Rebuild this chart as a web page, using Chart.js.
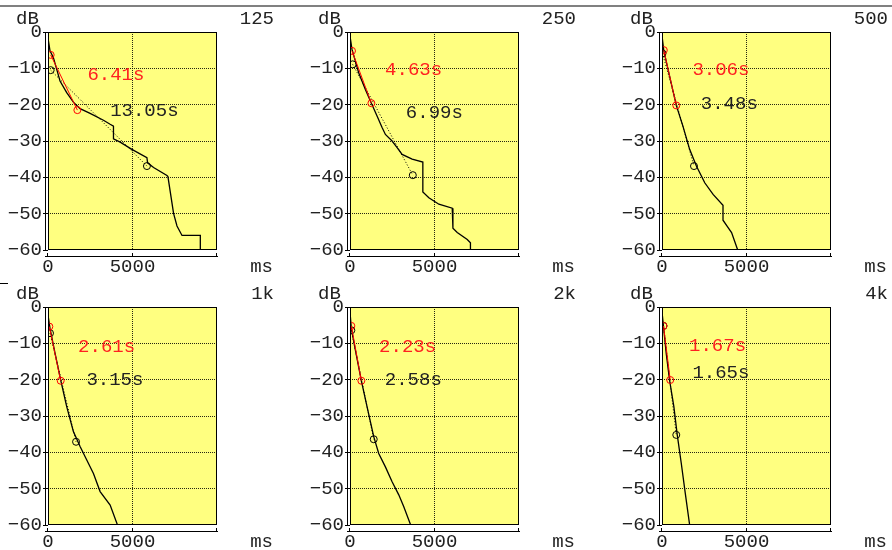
<!DOCTYPE html>
<html>
<head>
<meta charset="utf-8">
<script src="https://cdn.jsdelivr.net/npm/chart.js@4.4.1/dist/chart.umd.min.js"></script>
<style>
  body { margin: 0; background: #fff; width: 892px; height: 550px; position: relative; overflow: hidden; }
  canvas { position: absolute; }
  .rule { position: absolute; left: 0; top: 5px; width: 892px; height: 2px; background: #808080; }
  .dash { position: absolute; left: 0; top: 283px; width: 8px; height: 1px; background: #000; }
</style>
</head>
<body>
<div class="rule"></div>
<div class="dash"></div>
<script>
// octave bands and the two decay-time readouts
const bands = ['125', '250', '500', '1k', '2k', '4k'];
const edtLabels = ['6.41s', '4.63s', '3.06s', '2.61s', '2.23s', '1.67s'];
const rtLabels = ['13.05s', '6.99s', '3.48s', '3.15s', '2.58s', '1.65s'];
const yTicks = [0, -10, -20, -30, -40, -50, -60];
const xTicks = [0, 5000, 10000];

// decay curves, time in ms and level in dB
const curve125Ms = [0, 119, 316, 711, 1107, 1502, 1898, 2491, 3281, 3677, 3874, 3874, 4270, 4963, 5853, 5893, 6247, 7038, 7096, 7430, 7632, 7929, 9013, 9013];
const curve125Db = [-1.7, -5.2, -7.0, -13.5, -16.7, -19.3, -21.1, -22.4, -24.3, -25.4, -25.9, -29.4, -30.3, -32.3, -34.6, -36.0, -37.3, -39.5, -39.8, -49.9, -53.4, -56.0, -56.0, -60];
const curve250Ms = [0, 119, 514, 909, 1265, 1601, 1898, 2095, 2491, 2787, 3084, 3677, 4310, 4310, 4666, 5259, 6049, 6090, 6345, 6938, 7127, 7127];
const curve250Db = [-1.1, -4.8, -11.2, -15.8, -19.6, -23.1, -26.3, -28.2, -30.0, -31.8, -33.7, -35.0, -35.8, -44.0, -45.6, -47.4, -48.5, -54.0, -55.2, -57.1, -58.0, -60];
const curve500Ms = [0, 107, 446, 845, 1238, 1636, 2035, 2529, 3023, 3610, 3610, 3820, 4117, 4480];
const curve500Db = [-1.0, -5.2, -12.1, -20.2, -25.9, -32.3, -36.9, -41.5, -44.7, -47.7, -51.8, -53.2, -55.2, -60];
const curve1kMs = [0, 119, 415, 751, 1107, 1502, 1898, 2293, 2689, 3084, 3677, 4112];
const curve1kDb = [-2.2, -5.9, -12.7, -20.1, -27.4, -34.3, -38.4, -42.1, -45.8, -50.8, -54.5, -60];
const curve2kMs = [0, 79, 316, 672, 1008, 1404, 1700, 2095, 2491, 2886, 3183, 3590];
const curve2kDb = [-1.3, -5.9, -11.8, -20.3, -27.4, -35.7, -40.3, -44.0, -48.1, -51.7, -55.0, -60];
const curve4kMs = [20, 89, 248, 446, 702, 902, 1140, 1378, 1636];
const curve4kDb = [-2.2, -5.4, -12.7, -20.1, -27.4, -35.2, -43.0, -51.3, -60];

// evaluation points (red = early decay, black = decay fit)
const edtStartMs = [158, 119, 107, 79, 79, 89];
const edtStartDb = [-6.3, -5.2, -5.0, -5.4, -5.2, -5.2];
const edtEndMs = [1738, 1265, 845, 751, 672, 486];
const edtEndDb = [-21.5, -19.6, -20.2, -20.3, -20.3, -20.1];
const rtStartMs = [158, 158, 30, 119, 79, 89];
const rtStartDb = [-10.5, -8.9, -5.9, -7.2, -6.4, -5.2];
const rtEndMs = [5854, 3716, 1892, 1660, 1404, 845];
const rtEndDb = [-36.9, -39.4, -36.9, -37.1, -36.4, -35.2];

const curvesMs = [curve125Ms, curve250Ms, curve500Ms, curve1kMs, curve2kMs, curve4kMs];
const curvesDb = [curve125Db, curve250Db, curve500Db, curve1kDb, curve2kDb, curve4kDb];

// where the readouts sit (ms, dB of the text's left middle)
const notePos = [
  [2390, -11.8, 3737, -21.7],
  [2135, -10.5, 3363, -22.3],
  [1857, -10.5, 2355, -19.9],
  [1839, -10.9, 2331, -20.2],
  [1780, -10.9, 2117, -20.2],
  [1661, -10.7, 1857, -18.2],
];

const W = 278, H = 275;
const FAMILY = "'Liberation Mono', 'Courier New', monospace";
const FONT = '19px ' + FAMILY;
const TXT = '#222';

const panelDecor = {
  id: 'panelDecor',
  beforeDraw(chart) {
    const { ctx, chartArea: a } = chart;
    ctx.save();
    ctx.fillStyle = '#ffff80';
    ctx.fillRect(a.left, a.top, a.right - a.left, a.bottom - a.top);
    ctx.restore();
  },
  afterDraw(chart, args, opts) {
    const { ctx, chartArea: a, scales } = chart;
    const i = opts.index;
    ctx.save();
    ctx.strokeStyle = '#000';
    ctx.lineWidth = 1;
    ctx.strokeRect(a.left + 0.5, a.top + 0.5, a.right - a.left - 1, a.bottom - a.top - 1);
    // detached axis lines
    ctx.beginPath();
    ctx.moveTo(a.left - 2.5, a.top);
    ctx.lineTo(a.left - 2.5, a.bottom);
    ctx.moveTo(a.left - 3, a.bottom + 6.5);
    ctx.lineTo(a.right + 1, a.bottom + 6.5);
    xTicks.forEach(v => {
      const px = Math.round(scales.x.getPixelForValue(v)) - 0.5;
      ctx.moveTo(px, a.bottom + 3);
      ctx.lineTo(px, a.bottom + 7);
    });
    ctx.stroke();

    ctx.font = FONT;
    ctx.fillStyle = TXT;
    ctx.textBaseline = 'middle';
    ctx.textAlign = 'left';
    ctx.fillText('dB', 16, 19);
    ctx.textAlign = 'right';
    ctx.fillText(bands[i], a.right + 57, 19);
    ctx.fillText('ms', a.right + 56, 267);

    const p = notePos[i];
    ctx.textAlign = 'left';
    ctx.fillStyle = '#ff2020';
    ctx.fillText(edtLabels[i], scales.x.getPixelForValue(p[0]) - 1, scales.y.getPixelForValue(p[1]));
    ctx.fillStyle = TXT;
    ctx.fillText(rtLabels[i], scales.x.getPixelForValue(p[2]) - 1, scales.y.getPixelForValue(p[3]));
    ctx.restore();
  },
};

bands.forEach((band, i) => {
  const canvas = document.createElement('canvas');
  canvas.width = W;
  canvas.height = H;
  canvas.style.left = [0, 302, 614][i % 3] + 'px';
  canvas.style.top = (i < 3 ? 0 : 275) + 'px';
  document.body.appendChild(canvas);

  const curve = curvesMs[i].map((x, k) => ({ x, y: curvesDb[i][k] }));

  new Chart(canvas, {
    type: 'line',
    data: {
      datasets: [
        {
          data: [{ x: edtStartMs[i], y: edtStartDb[i] }, { x: edtEndMs[i], y: edtEndDb[i] }],
          borderColor: '#ff0000',
          borderWidth: 1,
          pointRadius: 3.5,
          pointBorderColor: '#ff0000',
          pointBackgroundColor: 'rgba(0,0,0,0)',
          pointBorderWidth: 1,
        },
        {
          data: [{ x: rtStartMs[i], y: rtStartDb[i] }, { x: rtEndMs[i], y: rtEndDb[i] }],
          borderColor: '#000',
          borderWidth: 1,
          borderDash: [1, 2],
          pointRadius: 3.5,
          pointBorderColor: '#000',
          pointBackgroundColor: 'rgba(0,0,0,0)',
          pointBorderWidth: 1,
        },
        {
          data: curve,
          borderColor: '#000',
          borderWidth: 1.3,
          pointRadius: 0,
        },
      ],
    },
    options: {
      responsive: false,
      animation: false,
      events: [],
      layout: { padding: { left: 0, top: 32, right: W - 217, bottom: 0 } },
      scales: {
        x: {
          type: 'linear',
          min: 0,
          max: 10000,
          afterFit: s => { s.height = 25; },
          afterBuildTicks: s => { s.ticks = xTicks.map(value => ({ value })); },
          border: { display: false, dash: [1, 1] },
          grid: {
            drawTicks: false,
            color: c => (c.tick && c.tick.value > 0 && c.tick.value < 10000 ? 'rgba(0,0,0,0.85)' : 'rgba(0,0,0,0)'),
          },
          ticks: {
            autoSkip: false,
            maxRotation: 0,
            padding: 6,
            color: TXT,
            font: { family: FAMILY, size: 19 },
            callback: v => (v === 10000 ? '' : String(v)),
          },
        },
        y: {
          type: 'linear',
          min: -60,
          max: 0,
          afterFit: s => { s.width = 48; },
          afterBuildTicks: s => { s.ticks = yTicks.map(value => ({ value })); },
          border: { display: false, dash: [1, 1] },
          grid: {
            drawTicks: true,
            tickLength: 5,
            tickColor: '#000',
            tickBorderDash: [],
            color: c => (c.tick && c.tick.value < 0 && c.tick.value > -60 ? 'rgba(0,0,0,0.85)' : 'rgba(0,0,0,0)'),
          },
          ticks: {
            padding: 1,
            color: TXT,
            font: { family: FAMILY, size: 19 },
            callback: v => (v < 0 ? '\u2212' + Math.abs(v) : String(v)),
          },
        },
      },
      plugins: {
        legend: { display: false },
        tooltip: { enabled: false },
        panelDecor: { index: i },
      },
    },
    plugins: [panelDecor],
  });
});
</script>
</body>
</html>
